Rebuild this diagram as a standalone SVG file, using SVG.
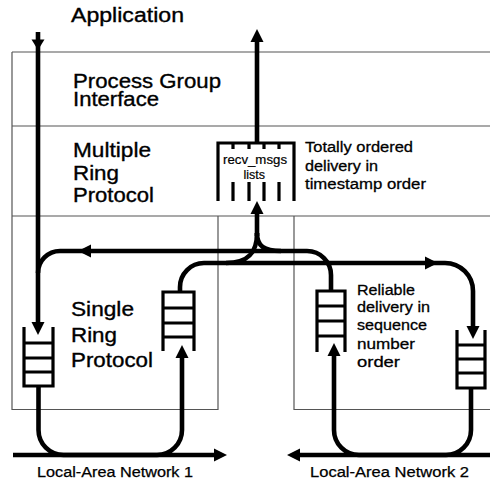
<svg xmlns="http://www.w3.org/2000/svg" width="490" height="483" viewBox="0 0 490 483">
  <defs>
    <style>
      .frame { fill: none; stroke: #555; stroke-width: 1.2; }
      .wire { fill: none; stroke: #000; stroke-width: 4.6; }
      .queue { fill: none; stroke: #000; stroke-width: 3.2; }
      .head { fill: #000; }
      text { font-family: "Liberation Sans", Arial, Helvetica, sans-serif; fill: #000; stroke: #000; stroke-width: 0.35; }
      .big { font-size: 20px; }
      .mid { font-size: 15.5px; stroke-width: 0.3; }
      .small { font-size: 12px; stroke-width: 0.2; }
      .lan { font-size: 14px; stroke-width: 0.25; }
    </style>
    <!-- arrowhead with its tip at the origin, pointing along +x -->
    <path id="ah" d="M0 0L-13 -6.5L-13 6.5Z"/>
  </defs>

  <rect width="490" height="483" fill="#fff"/>

  <!-- protocol layer boundaries -->
  <g id="layers" class="frame">
    <path d="M12 52H490M12 126H490M12 216H490M12 52V409.5H218V216M294 216V409.5H490"/>
  </g>

  <g id="application">
    <text class="big" x="71" y="22" textLength="113" lengthAdjust="spacingAndGlyphs">Application</text>
  </g>

  <g id="process-group-interface">
    <text class="big" x="73" y="87.5" textLength="148" lengthAdjust="spacingAndGlyphs">Process Group</text>
    <text class="big" x="73" y="106" textLength="86" lengthAdjust="spacingAndGlyphs">Interface</text>
  </g>

  <g id="multiple-ring-protocol">
    <text class="big" x="73" y="157" textLength="78" lengthAdjust="spacingAndGlyphs">Multiple</text>
    <text class="big" x="73" y="179.5" textLength="46" lengthAdjust="spacingAndGlyphs">Ring</text>
    <text class="big" x="73" y="202" textLength="81" lengthAdjust="spacingAndGlyphs">Protocol</text>
    <text class="mid" x="305" y="152" textLength="108" lengthAdjust="spacingAndGlyphs">Totally ordered</text>
    <text class="mid" x="305" y="171" textLength="73" lengthAdjust="spacingAndGlyphs">delivery in</text>
    <text class="mid" x="305" y="189" textLength="121" lengthAdjust="spacingAndGlyphs">timestamp order</text>
  </g>

  <g id="recv-msgs-lists">
    <path class="queue" d="M218 201V143H294V201M233 143V149M249 143V149M264 143V149M279 143V149M233 182V201M249 182V201M264 182V201M279 182V201"/>
    <text class="small" x="223" y="164" textLength="64" lengthAdjust="spacingAndGlyphs">recv_msgs</text>
    <text class="small" x="243.5" y="179" textLength="21.5" lengthAdjust="spacingAndGlyphs">lists</text>
  </g>

  <g id="single-ring-protocol">
    <text class="big" x="71" y="316" textLength="63" lengthAdjust="spacingAndGlyphs">Single</text>
    <text class="big" x="71" y="342" textLength="46" lengthAdjust="spacingAndGlyphs">Ring</text>
    <text class="big" x="71" y="367" textLength="82" lengthAdjust="spacingAndGlyphs">Protocol</text>
  </g>

  <g id="send-queue-1">
    <path class="queue" d="M24 327V386H53V327M24 343H53M24 358H53M24 372H53"/>
  </g>
  <g id="receive-queue-1">
    <path class="queue" d="M163 351V292H194V351M163 308H194M163 323H194M163 337H194"/>
  </g>
  <g id="receive-queue-2">
    <path class="queue" d="M317 352V291H345V352M317 306H345M317 321H345M317 336H345"/>
    <text class="mid" x="357" y="295" textLength="58" lengthAdjust="spacingAndGlyphs">Reliable</text>
    <text class="mid" x="357" y="312" textLength="73" lengthAdjust="spacingAndGlyphs">delivery in</text>
    <text class="mid" x="357" y="330" textLength="70" lengthAdjust="spacingAndGlyphs">sequence</text>
    <text class="mid" x="357" y="348.5" textLength="58" lengthAdjust="spacingAndGlyphs">number</text>
    <text class="mid" x="357" y="367" textLength="43" lengthAdjust="spacingAndGlyphs">order</text>
  </g>
  <g id="send-queue-2">
    <path class="queue" d="M457 330V388H485V330M457 345H485M457 359H485M457 373H485"/>
  </g>

  <g id="lan-1">
    <text class="lan" x="37" y="477" textLength="156" lengthAdjust="spacingAndGlyphs">Local-Area Network 1</text>
  </g>
  <g id="lan-2">
    <text class="lan" x="310" y="477" textLength="159" lengthAdjust="spacingAndGlyphs">Local-Area Network 2</text>
  </g>

  <g id="connectors">
    <g class="wire">
      <!-- application down to the ring 1 send queue -->
      <path d="M38 32V323"/>
      <!-- ring 2 deliveries forwarded to ring 1 -->
      <path d="M331 291V275A24 24 0 0 0 307 251H60A22 22 0 0 0 38 273"/>
      <!-- ring 1 deliveries forwarded to ring 2 -->
      <path d="M180 292V287A24 24 0 0 1 204 263H445A28 28 0 0 1 473 291V326"/>
      <!-- merge of both rings into the recv_msgs lists -->
      <path d="M257 212V236"/>
      <path d="M257 233C257 252 249 263 226 263"/>
      <path d="M257 233C257 246 264 251 281 251"/>
      <!-- delivery up to the application -->
      <path d="M257 143V41"/>
      <!-- network 1 and its loop -->
      <path d="M13 455H215"/>
      <path d="M38.5 386V430A25 25 0 0 0 63.5 455H157A25 25 0 0 0 182 430V357"/>
      <!-- network 2 and its loop -->
      <path d="M299 455H490"/>
      <path d="M471 388V430A25 25 0 0 1 446 455H359A25 25 0 0 1 334 430V355"/>
    </g>
    <g class="head">
      <use href="#ah" transform="translate(38 50) rotate(90) scale(0.8 1)"/>
      <use href="#ah" transform="translate(38 335) rotate(90)"/>
      <use href="#ah" transform="translate(78 251) rotate(180)"/>
      <use href="#ah" transform="translate(438 263)"/>
      <use href="#ah" transform="translate(473 339) rotate(90)"/>
      <use href="#ah" transform="translate(257 201) rotate(-90)"/>
      <use href="#ah" transform="translate(257 29) rotate(-90)"/>
      <use href="#ah" transform="translate(227 455)"/>
      <use href="#ah" transform="translate(182 345) rotate(-90)"/>
      <use href="#ah" transform="translate(287 455) rotate(180)"/>
      <use href="#ah" transform="translate(334 343) rotate(-90)"/>
    </g>
  </g>
</svg>
